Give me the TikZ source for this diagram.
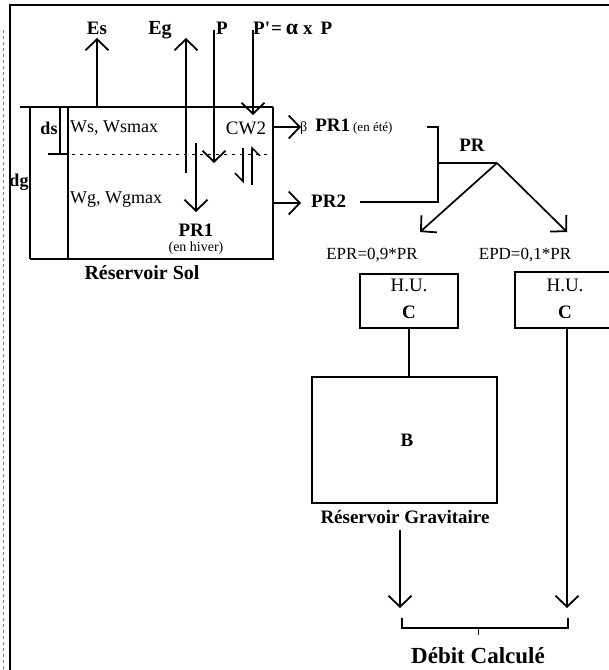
\documentclass[tikz,border=0pt]{standalone}
\usepackage{fontspec}
\setmainfont{Liberation Serif}
\usetikzlibrary{arrows.meta}
\begin{document}
\begin{tikzpicture}[x=1pt,y=-1pt,
  lab/.style={font=\fontsize{19}{22}\selectfont\bfseries, inner sep=0pt},
  big/.style={font=\fontsize{19}{22}\selectfont\bfseries, inner sep=0pt},
  reg/.style={font=\fontsize{17}{20}\selectfont, inner sep=0pt},
  tiny/.style={font=\fontsize{14}{16}\selectfont, inner sep=0pt},
  ln/.style={line width=1.4pt},
  arr/.style={line width=1.7pt, -{Straight Barb[length=11pt,width=23pt,line width=1.8pt]}},
  harpL/.style={line width=1.5pt, -{Straight Barb[length=8pt,width=16pt,line width=1.5pt,right]}},
  boxst/.style={draw, line width=1.4pt, inner sep=0pt}
]
\useasboundingbox (0,0) rectangle (609,670);
% frame
\draw[line width=1.6pt] (10,670) -- (10,5) -- (609,5);
\draw[dashed, gray, line width=0.6pt] (3,30) -- (3,670);

% soil reservoir
\coordinate (stl) at (20,107);
\coordinate (str) at (273,107);
\coordinate (sbr) at (273,259);
\coordinate (sbl) at (30,259);
\draw[line width=1.8pt] (stl) -- (str);
\draw[ln] (str) -- (sbr) -- (sbl);
\draw[ln] (30,107) -- (sbl);
\draw[ln] (68,107) -- (68,259);
\draw[ln] (60,107) -- (60,154);
\draw[ln] (48,154) -- (68,154);
\draw[line width=0.8pt, dash pattern=on 3pt off 5pt] (72,154) -- (273,154);

\node[lab, font=\fontsize{18}{20}\selectfont\bfseries] (ds) at (49,128) {ds};
\node[lab, font=\fontsize{18}{20}\selectfont\bfseries] (dg) at (19,182) {dg};
\node[reg, font=\fontsize{18}{20}\selectfont, anchor=west] (ws) at (70,128) {Ws, Wsmax};
\node[reg, font=\fontsize{18}{20}\selectfont, anchor=west] (wg) at (70,200) {Wg, Wgmax};
\node[reg, font=\fontsize{19}{22}\selectfont] (cw2) at (246,128) {CW2};
\node[lab, font=\fontsize{20}{23}\selectfont\bfseries] (rsol) at (142,273) {Réservoir Sol};

% top labels
\node[big, anchor=base] (es) at (97,34) {Es};
\node[big, font=\fontsize{20}{23}\selectfont\bfseries, anchor=base] (eg) at (160,34) {Eg};
\node[big, anchor=base] (p) at (222,34) {P};
\node[big, anchor=base west] (pp) at (253,34) {P\textquotesingle\hspace{1pt}=\hspace{4pt}{\fontsize{22}{24}\selectfont α}\hspace{5pt}x\hspace{8pt}P};

% vertical arrows
\coordinate (es0) at (97,107);  \coordinate (es1) at (97,38);
\coordinate (eg0) at (186,173); \coordinate (eg1) at (186,38);
\coordinate (p0) at (214,30);   \coordinate (p1) at (214,163);
\coordinate (pp0) at (253,30);  \coordinate (pp1) at (253,115);
\coordinate (pr0) at (196,143); \coordinate (pr1e) at (196,212);
\draw[arr] (es0) -- (es1);
\draw[arr] (eg0) -- (eg1);
\draw[arr] (p0) -- (p1);
\draw[arr] (pp0) -- (pp1);
\draw[arr] (pr0) -- (pr1e);
\node[lab] (pr1h) at (196,230) {PR1};
\node[tiny] (hiver) at (196,248) {(en hiver)};

% harpoons
\coordinate (h1a) at (243,148); \coordinate (h1b) at (243,183);
\coordinate (h2a) at (252,185); \coordinate (h2b) at (252,146);
\draw[harpL] (h1a) -- (h1b);
\draw[harpL] (h2a) -- (h2b);

% outputs
\coordinate (o1) at (273,127); \coordinate (o1e) at (301,127);
\coordinate (o2) at (273,203); \coordinate (o2e) at (301,203);
\draw[arr] (o1) -- (o1e);
\draw[arr] (o2) -- (o2e);
\node[anchor=west, inner sep=0pt] (beta) at (300,127) {{\fontsize{14}{16}\selectfont β}\hspace{8pt}{\fontsize{19}{22}\selectfont\bfseries PR1}\hspace{3pt}{\fontsize{13}{15}\selectfont(en été)}};
\node[lab, anchor=west] (pr2) at (311,201) {PR2};

% bracket PR
\coordinate (b1) at (427,127);
\coordinate (b2) at (438,127);
\coordinate (b3) at (438,202);
\coordinate (b4) at (360,202);
\coordinate (bm) at (438,163);
\coordinate (split) at (497,163);
\draw[ln] (b1) -- (b2) -- (b3) -- (b4);
\draw[ln] (bm) -- (split);
\node[lab] (pr) at (472,145) {PR};
\coordinate (sl) at (420,232);
\coordinate (sr) at (567,232);
\draw[arr] (split) -- (sl);
\draw[arr] (split) -- (sr);

\node[reg] (epr) at (372,255) {EPR=0,9*PR};
\node[reg] (epd) at (525,255) {EPD=0,1*PR};

% HU boxes
\node[boxst, minimum width=98pt, minimum height=54pt] (hu1) at (409,301) {};
\node[reg, font=\fontsize{19}{22}\selectfont] at (409,285) {H.U.};
\node[lab] at (409,312) {C};
\draw[line width=1.4pt] (615,272) -- (515,272) -- (515,328) -- (615,328);
\coordinate (hu2b) at (567,328);
\node[reg, font=\fontsize{19}{22}\selectfont] (hu2t) at (565,285) {H.U.};
\node[lab] (hu2c) at (565,312) {C};

% gravity reservoir
\node[boxst, minimum width=185pt, minimum height=126pt] (bres) at (404.5,440) {};
\node[lab] (bl) at (407,440) {B};
\draw[ln] (hu1.south) -- (bres.north -| hu1.south);
\node[lab] (rgrav) at (405,517) {Réservoir Gravitaire};

\coordinate (ga) at (400,530); \coordinate (gb) at (400,608);
\coordinate (hb) at (567,608);
\draw[arr] (ga) -- (gb);
\draw[arr] (hu2b) -- (hb);

% final bracket
\coordinate (f1) at (402,618);
\coordinate (f2) at (402,628);
\coordinate (f3) at (568,628);
\coordinate (f4) at (568,618);
\draw[ln] (f1) -- (f2) -- (f3) -- (f4);
\coordinate (fm) at (478,628);
\coordinate (fm2) at (478,635);
\draw[line width=0.8pt] (fm) -- (fm2);
\node[lab, font=\fontsize{23}{26}\selectfont\bfseries] (debit) at (478,656) {Débit Calculé};
\end{tikzpicture}
\end{document}
